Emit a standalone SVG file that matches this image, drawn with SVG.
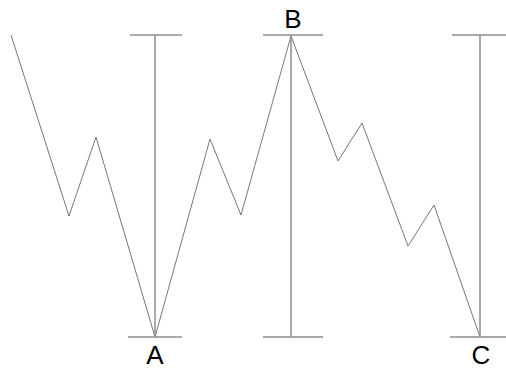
<svg xmlns="http://www.w3.org/2000/svg" width="506" height="371" viewBox="0 0 506 371">
<style>
.bar{stroke:#8c8c8c;stroke-width:1.5;fill:none}
.zz{stroke:#777;stroke-width:1;fill:none}
.lbl{font-family:"Liberation Sans",Arial,sans-serif;font-size:26px;fill:#000;text-anchor:middle}
</style>
<rect width="506" height="371" fill="#fff"/>
<g id="connectors">
<polyline class="zz" points="11,35 69,216 96,137 155,337 210,139 241,215 291,36 338,161 362,123 408,246 434,205 480,337"/>
</g>
<g id="A">
<line class="bar" x1="155" y1="35" x2="155" y2="337"/>
<line class="bar" x1="130" y1="35" x2="182" y2="35"/>
<line class="bar" x1="128" y1="337" x2="182" y2="337"/>
<text class="lbl" x="155" y="364">A</text>
</g>
<g id="B">
<line class="bar" x1="291" y1="35" x2="291" y2="337"/>
<line class="bar" x1="263" y1="35" x2="323" y2="35"/>
<line class="bar" x1="263" y1="337" x2="323" y2="337"/>
<text class="lbl" x="293" y="28">B</text>
</g>
<g id="C">
<line class="bar" x1="480" y1="35" x2="480" y2="337"/>
<line class="bar" x1="452" y1="35" x2="506" y2="35"/>
<line class="bar" x1="450" y1="337" x2="506" y2="337"/>
<text class="lbl" x="481" y="364">C</text>
</g>
</svg>
